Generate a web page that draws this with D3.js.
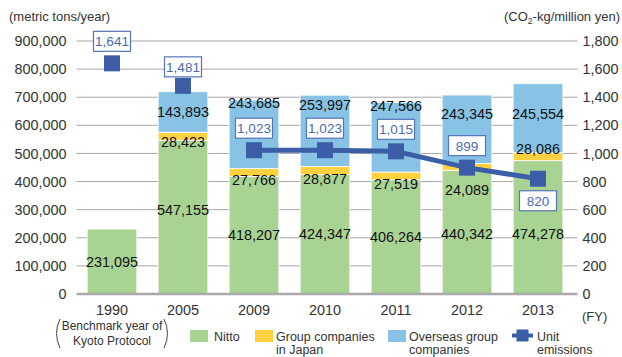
<!DOCTYPE html>
<html>
<head>
<meta charset="utf-8">
<script src="https://cdn.jsdelivr.net/npm/d3@7"></script>
<style>
  html, body { margin: 0; padding: 0; background: #fff; }
  svg { display: block; font-family: "Liberation Sans", Arial, Helvetica, sans-serif; }
</style>
</head>
<body>
<svg id="chart" width="622" height="357"></svg>
<script>
// CO2 emissions by fiscal year (metric tons/year) and unit emissions (CO2-kg/million yen)
const years = ["1990", "2005", "2009", "2010", "2011", "2012", "2013"];
const nitto = [231095, 547155, 418207, 424347, 406264, 440342, 474278];
const groupJapan = [0, 28423, 27766, 28877, 27519, 24089, 28086];
const overseas = [0, 143893, 243685, 253997, 247566, 243345, 245554];
const unitEmissions = [1641, 1481, 1023, 1023, 1015, 899, 820];

const leftTicks = [0, 100000, 200000, 300000, 400000, 500000, 600000, 700000, 800000, 900000];
const rightTicks = [0, 200, 400, 600, 800, 1000, 1200, 1400, 1600, 1800];

const seriesNames = ["Nitto", "Group companies in Japan", "Overseas group companies", "Unit emissions"];

// ---- layout & styling ----
const COLORS = { nitto: "#a9d393", group: "#fdd23e", overseas: "#88c3e6", unit: "#3b5ea6", unitText: "#4a6bb2" };
const plot = { left: 76.5, right: 573.5, top: 41, bottom: 294 };

// label placement tweaks (pixels) for crowded columns
const nittoLabelDy = { "2005": -7, "2012": 2, "2013": 7 };
const groupLabelDy = { default: 4, "2005": 2, "2012": 20, "2013": -12 };
const overseasLabelDy = { "2005": 20, "2009": 3, "2010": 10, "2011": 3, "2012": 19, "2013": 30 };
const unitLabelBelow = new Set(["2013"]);

const svg = d3.select("#chart");
const fmt = d3.format(",");

const x = d3.scaleBand().domain(years).range([plot.left, plot.right])
  .paddingInner(0.3).paddingOuter(0.15);
const y = d3.scaleLinear().domain([0, 900000]).range([plot.bottom, plot.top]);
const y2 = d3.scaleLinear().domain([0, 1800]).range([plot.bottom, plot.top]);

// gridlines
svg.append("g").selectAll("line").data(leftTicks.filter(d => d > 0)).join("line")
  .attr("x1", plot.left).attr("x2", plot.right + 4)
  .attr("y1", d => y(d)).attr("y2", d => y(d))
  .attr("stroke", "#a6a6a6").attr("stroke-width", 1);

// left axis
const leftAxis = svg.append("g").attr("transform", `translate(${plot.left},0)`)
  .call(d3.axisLeft(y).tickValues(leftTicks).tickFormat(fmt).tickSize(0).tickPadding(10));
leftAxis.select(".domain").remove();
leftAxis.selectAll("text").attr("font-size", 14.4).attr("fill", "#333").attr("font-family", null);

// right axis
const rightAxis = svg.append("g").attr("transform", `translate(${plot.right + 4},0)`)
  .call(d3.axisRight(y2).tickValues(rightTicks).tickFormat(fmt).tickSize(0).tickPadding(5));
rightAxis.select(".domain").remove();
rightAxis.selectAll("text").attr("font-size", 14.4).attr("fill", "#333").attr("font-family", null);

// stacked bars
const rows = years.map((yr, i) => ({ year: yr, nitto: nitto[i], group: groupJapan[i], overseas: overseas[i] }));
const stack = d3.stack().keys(["nitto", "group", "overseas"])(rows);

svg.append("g").selectAll("g").data(stack).join("g")
  .attr("fill", s => COLORS[s.key])
  .selectAll("rect").data(s => s.filter(d => d[1] - d[0] > 0)).join("rect")
  .attr("x", d => x(d.data.year))
  .attr("width", x.bandwidth())
  .attr("y", d => y(d[1]))
  .attr("height", d => y(d[0]) - y(d[1]))
  .attr("stroke", "#fff").attr("stroke-width", 0.8);

// baseline
svg.append("line")
  .attr("x1", plot.left).attr("x2", plot.right + 4)
  .attr("y1", y(0)).attr("y2", y(0))
  .attr("stroke", "#a9a9a9").attr("stroke-width", 2.5);

// bar value labels
const labelG = svg.append("g").attr("font-size", 14.4).attr("fill", "#111").attr("text-anchor", "middle");
rows.forEach((r, i) => {
  const cx = x(r.year) + x.bandwidth() / 2;
  const nTop = y(r.nitto);
  labelG.append("text").attr("x", cx)
    .attr("y", (y(0) + nTop) / 2 + (nittoLabelDy[r.year] || 0))
    .attr("dy", "0.35em").text(fmt(r.nitto));
  if (r.group > 0) {
    const dy = groupLabelDy[r.year] !== undefined ? groupLabelDy[r.year] : groupLabelDy.default;
    labelG.append("text").attr("x", cx).attr("y", nTop + dy)
      .attr("dy", "0.35em").text(fmt(r.group));
  }
  if (r.overseas > 0) {
    const oTop = y(r.nitto + r.group + r.overseas);
    labelG.append("text").attr("x", cx).attr("y", oTop + (overseasLabelDy[r.year] || 0))
      .attr("dy", "0.35em").text(fmt(r.overseas));
  }
});

// unit emissions line: joins consecutive fiscal years only
const pts = years.map((yr, i) => ({ year: yr, v: unitEmissions[i] }));
const segs = [];
pts.forEach((p, i) => {
  if (i > 0 && +p.year - +pts[i - 1].year === 1) segs.push([pts[i - 1], p]);
});
const line = d3.line().x(d => x(d.year) + x.bandwidth() / 2).y(d => y2(d.v));
svg.append("g").selectAll("path").data(segs).join("path")
  .attr("d", line).attr("fill", "none")
  .attr("stroke", COLORS.unit).attr("stroke-width", 5);

const msize = 16;
svg.append("g").selectAll("rect").data(pts).join("rect")
  .attr("x", d => x(d.year) + x.bandwidth() / 2 - msize / 2)
  .attr("y", d => y2(d.v) - msize / 2)
  .attr("width", msize).attr("height", msize)
  .attr("fill", COLORS.unit);

// unit emissions labels in boxes
const boxW = 37, boxH = 20;
const ul = svg.append("g").selectAll("g").data(pts).join("g")
  .attr("transform", d => {
    const cx = x(d.year) + x.bandwidth() / 2;
    const cy = y2(d.v) + (unitLabelBelow.has(d.year) ? 22 : (d.year === "2005" ? -19 : -22));
    return `translate(${cx},${cy})`;
  });
ul.append("rect").attr("x", -boxW / 2).attr("y", -boxH / 2).attr("width", boxW).attr("height", boxH)
  .attr("fill", "#fff").attr("stroke", "#5775b6").attr("stroke-width", 1.2);
ul.append("text").attr("text-anchor", "middle").attr("dy", "0.36em")
  .attr("font-size", 13.5).attr("fill", COLORS.unitText).text(d => fmt(d.v));

// category labels
svg.append("g").selectAll("text").data(years).join("text")
  .attr("x", d => x(d) + x.bandwidth() / 2).attr("y", 315)
  .attr("text-anchor", "middle").attr("font-size", 14.4).attr("fill", "#333").text(d => d);

// benchmark note under 1990
const bx = x("1990") + x.bandwidth() / 2;
const note = svg.append("g").attr("font-size", 12).attr("fill", "#333").attr("text-anchor", "middle");
note.append("text").attr("x", bx).attr("y", 330).text("Benchmark year of");
note.append("text").attr("x", bx).attr("y", 345).text("Kyoto Protocol");
svg.append("path").attr("d", `M${bx - 52},319 Q${bx - 59},333.5 ${bx - 52},348`)
  .attr("fill", "none").attr("stroke", "#444").attr("stroke-width", 1);
svg.append("path").attr("d", `M${bx + 52},319 Q${bx + 59},333.5 ${bx + 52},348`)
  .attr("fill", "none").attr("stroke", "#444").attr("stroke-width", 1);

// axis titles
svg.append("text").attr("x", 9).attr("y", 21).attr("font-size", 13).attr("fill", "#333")
  .text("(metric tons/year)");
const rt = svg.append("text").attr("x", 620).attr("y", 21).attr("font-size", 13)
  .attr("fill", "#333").attr("text-anchor", "end");
rt.append("tspan").text("(CO");
rt.append("tspan").attr("font-size", 8.5).attr("dy", 3).text("2");
rt.append("tspan").attr("dy", -3).text("-kg/million yen)");
svg.append("text").attr("x", 582).attr("y", 321).attr("font-size", 13).attr("fill", "#333").text("(FY)");

// legend
const lg = svg.append("g").attr("font-size", 12.5).attr("fill", "#333");
const swatches = [
  { x: 190, color: COLORS.nitto, lines: [seriesNames[0]] },
  { x: 255, color: COLORS.group, lines: ["Group companies", "in Japan"] },
  { x: 388, color: COLORS.overseas, lines: ["Overseas group", "companies"] }
];
swatches.forEach(s => {
  lg.append("rect").attr("x", s.x).attr("y", 330).attr("width", 18).attr("height", 12).attr("fill", s.color);
  s.lines.forEach((t, k) => {
    lg.append("text").attr("x", s.x + (s.lines.length > 1 ? 21 : 24)).attr("y", 340.5 + k * 13.5).text(t);
  });
});
lg.append("line").attr("x1", 512).attr("x2", 533).attr("y1", 335.5).attr("y2", 335.5)
  .attr("stroke", COLORS.unit).attr("stroke-width", 4);
lg.append("rect").attr("x", 516.5).attr("y", 329.5).attr("width", 12).attr("height", 12).attr("fill", COLORS.unit);
lg.append("text").attr("x", 537).attr("y", 340.5).text("Unit");
lg.append("text").attr("x", 537).attr("y", 354).text("emissions");
</script>
</body>
</html>
